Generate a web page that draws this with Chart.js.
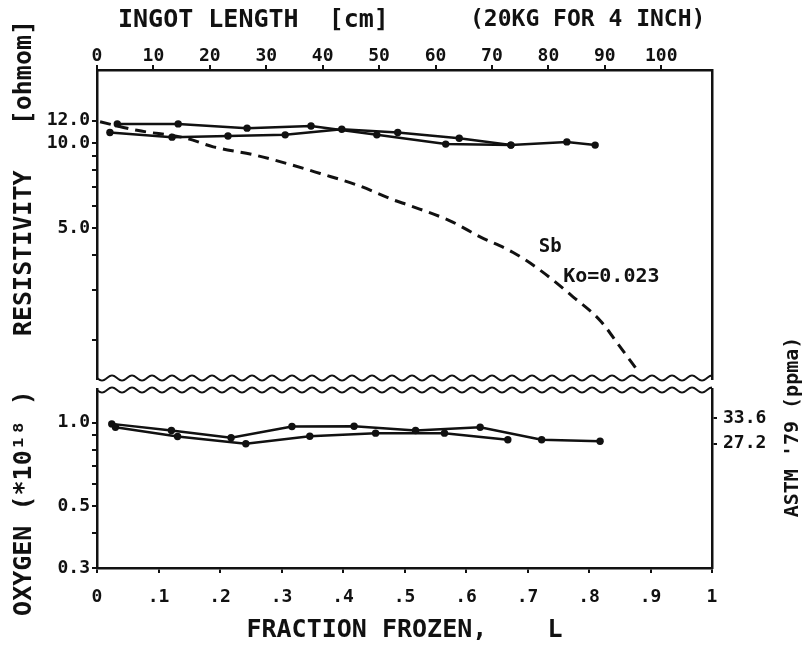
<!DOCTYPE html>
<html>
<head>
<meta charset="utf-8">
<title>Resistivity and oxygen vs fraction frozen</title>
<script src="https://cdn.jsdelivr.net/npm/chart.js@4.4.1/dist/chart.umd.min.js"></script>
<style>
  html, body { margin: 0; padding: 0; background: #fff; }
  #chart { display: block; }
</style>
</head>
<body>
<canvas id="chart" width="809" height="647"></canvas>
<script>
'use strict'

// resistivity [ohm cm] vs fraction frozen, two runs
const resFracA = [0.033, 0.132, 0.244, 0.348, 0.455, 0.567, 0.673]
const resValA = [11.7, 11.7, 11.3, 11.5, 10.7, 9.92, 9.84]
const resFracB = [0.021, 0.122, 0.213, 0.306, 0.398, 0.489, 0.589, 0.673, 0.764, 0.810]
const resValB = [10.9, 10.5, 10.6, 10.7, 11.2, 10.9, 10.4, 9.84, 10.1, 9.84]

// Sb segregation curve (k0 = 0.023), dashed
const sbFrac = [0.005, 0.065, 0.146, 0.189, 0.254, 0.314, 0.363, 0.423, 0.481, 0.509, 0.574, 0.623, 0.676, 0.720, 0.774, 0.818, 0.850, 0.878]
const sbVal = [11.9, 11.1, 10.4, 9.7, 9.1, 8.4, 7.8, 7.1, 6.3, 6.0, 5.3, 4.65, 4.1, 3.55, 2.85, 2.35, 1.9, 1.57]

// oxygen [*10^18] vs fraction frozen
const oxFracA = [0.030, 0.131, 0.242, 0.346, 0.453, 0.565, 0.668]
const oxValA = [0.962, 0.891, 0.839, 0.893, 0.916, 0.916, 0.867]
const oxFracB = [0.024, 0.121, 0.218, 0.317, 0.418, 0.518, 0.623, 0.723, 0.818]
const oxValB = [0.989, 0.936, 0.882, 0.968, 0.970, 0.936, 0.962, 0.867, 0.857]

// axis ticks
const fracTicks = [0, 0.1, 0.2, 0.3, 0.4, 0.5, 0.6, 0.7, 0.8, 0.9, 1]
const fracTickLabels = ['0', '.1', '.2', '.3', '.4', '.5', '.6', '.7', '.8', '.9', '1']
const lenTicks = [0, 10, 20, 30, 40, 50, 60, 70, 80, 90, 100]
const lenTickLabels = ['0', '10', '20', '30', '40', '50', '60', '70', '80', '90', '100']
const resTicks = [12, 10, 9, 8, 7, 6, 5, 4, 3, 2]
const resTickLabels = ['12.0', '10.0', '', '', '', '', '5.0', '', '', '']
const oxTicks = [1.0, 0.9, 0.8, 0.7, 0.6, 0.5, 0.4, 0.3]
const oxTickLabels = ['1.0', '', '', '', '', '0.5', '', '0.3']
const astmTicks = [33.6, 27.2]
const astmTickLabels = ['33.6', '27.2']

const FONT = 'DejaVu Sans Mono'
const INK = '#111'


function pts (xs, ys) {
  return xs.map((x, i) => ({x: x, y: ys[i]}))
}

function lineSet (data, yAxis) {
  return {
    data: data,
    xAxisID: 'x',
    yAxisID: yAxis,
    borderColor: INK,
    backgroundColor: INK,
    borderWidth: 2.5,
    pointRadius: 3.7,
    pointHoverRadius: 3.7,
    pointBorderWidth: 0,
    tension: 0
  }
}

function fixedTicks (values) {
  return function (scale) {
    scale.ticks = values.map(v => ({value: v}))
  }
}

function labelsFrom (labels) {
  return function (value, index) {
    return labels[index]
  }
}

const tickFont = {family: FONT, size: 18, weight: 'bold', lineHeight: 1}
const axisGrid = {display: true, drawOnChartArea: false, drawTicks: true, tickLength: 5, color: INK, lineWidth: 2}
const axisBorder = {display: true, color: INK, width: 2.5}

function sideAxis (position, stack, weight, extra) {
  return Object.assign({
    position: position,
    stack: stack,
    stackWeight: weight,
    grid: {display: false},
    border: axisBorder,
    ticks: {display: false},
    afterFit: scale => { scale.width = 97 }
  }, extra)
}

function gapAxis (position, stack) {
  return {
    position: position,
    stack: stack,
    stackWeight: 10,
    grid: {display: false},
    border: {display: false},
    ticks: {display: false},
    afterFit: scale => { scale.width = 97 }
  }
}

function sideTicks (labels, padding) {
  return {
    display: true,
    autoSkip: false,
    padding: padding,
    color: INK,
    font: tickFont,
    callback: labelsFrom(labels)
  }
}


// wavy break lines between the two panels
const breakMarks = {
  id: 'breakMarks',
  afterDraw (chart) {
    const ctx = chart.ctx
    const left = chart.chartArea.left
    const right = chart.chartArea.right
    const rows = [chart.scales.yRes.bottom - 1, chart.scales.yOx.top + 1]
    ctx.save()
    ctx.strokeStyle = INK
    ctx.lineWidth = 2
    rows.forEach(y0 => {
      ctx.beginPath()
      for (let x = left; x <= right; x++) {
        const y = y0 + 2.5 * Math.sin((x - left) / 20 * 2 * Math.PI)
        if (x === left) ctx.moveTo(x, y)
        else ctx.lineTo(x, y)
      }
      ctx.stroke()
    })
    ctx.restore()
  }
}

function drawText (ctx, text, x, y, size, align, rotate) {
  ctx.save()
  ctx.translate(x, y)
  if (rotate) ctx.rotate(-Math.PI / 2)
  ctx.font = 'bold ' + size + 'px "' + FONT + '"'
  ctx.fillStyle = INK
  ctx.textAlign = align
  ctx.textBaseline = 'middle'
  ctx.fillText(text, 0, 0)
  ctx.restore()
}

// labels that sit outside the axes' own title slots
const plotText = {
  id: 'plotText',
  afterDraw (chart) {
    const ctx = chart.ctx
    const x = chart.scales.x
    const yRes = chart.scales.yRes
    drawText(ctx, 'INGOT LENGTH  [cm]', 118, 20, 25, 'left', false)
    drawText(ctx, '(20KG FOR 4 INCH)', 470, 20, 23, 'left', false)
    drawText(ctx, 'RESISTIVITY   [ohmom]', 24, 178, 25, 'center', true)
    drawText(ctx, 'OXYGEN (*10\u00b9\u2078 )', 24, 503, 25, 'center', true)
    drawText(ctx, "ASTM '79 (ppma)", 793, 427, 20, 'center', true)
    drawText(ctx, 'Sb', x.getPixelForValue(0.737), yRes.getPixelForValue(4.28), 19, 'center', false)
    drawText(ctx, 'Ko=0.023', x.getPixelForValue(0.758), yRes.getPixelForValue(3.35), 20, 'left', false)
  }
}


const sbSet = {
  data: pts(sbFrac, sbVal),
  xAxisID: 'x',
  yAxisID: 'yRes',
  borderColor: INK,
  borderWidth: 3,
  borderDash: [11, 7],
  pointRadius: 0,
  cubicInterpolationMode: 'monotone'
}

new Chart(document.getElementById('chart'), {
  type: 'line',
  data: {
    datasets: [
      sbSet,
      lineSet(pts(resFracA, resValA), 'yRes'),
      lineSet(pts(resFracB, resValB), 'yRes'),
      lineSet(pts(oxFracA, oxValA), 'yOx'),
      lineSet(pts(oxFracB, oxValB), 'yOx')
    ]
  },
  options: {
    responsive: false,
    animation: false,
    events: [],
    layout: {padding: 0},
    plugins: {
      legend: {display: false},
      tooltip: {enabled: false}
    },
    scales: {
      x: {
        type: 'linear',
        position: 'bottom',
        min: 0,
        max: 1,
        grid: axisGrid,
        border: axisBorder,
        afterBuildTicks: fixedTicks(fracTicks),
        ticks: {
          autoSkip: false,
          maxRotation: 0,
          padding: 15,
          color: INK,
          font: tickFont,
          callback: labelsFrom(fracTickLabels)
        },
        title: {
          display: true,
          text: 'FRACTION FROZEN,    L',
          color: INK,
          font: {family: FONT, size: 25, weight: 'bold', lineHeight: 1},
          padding: {top: 0, bottom: 4}
        },
        afterFit: scale => { scale.height = 79 }
      },
      x2: {
        type: 'linear',
        position: 'top',
        min: 0,
        max: 109,
        grid: axisGrid,
        border: axisBorder,
        afterBuildTicks: fixedTicks(lenTicks),
        ticks: {
          autoSkip: false,
          maxRotation: 0,
          padding: 0,
          color: INK,
          font: tickFont,
          callback: labelsFrom(lenTickLabels)
        },
        afterFit: scale => { scale.height = 70 }
      },
      // left stack, listed bottom first
      yOx: sideAxis('left', 'left', 179, {
        type: 'logarithmic',
        min: 0.3,
        max: 1.32,
        grid: axisGrid,
        afterBuildTicks: fixedTicks(oxTicks),
        ticks: sideTicks(oxTickLabels, 2)
      }),
      yGapL: gapAxis('left', 'left'),
      yRes: sideAxis('left', 'left', 309, {
        type: 'logarithmic',
        min: 1.456,
        max: 18.17,
        grid: axisGrid,
        afterBuildTicks: fixedTicks(resTicks),
        ticks: sideTicks(resTickLabels, 2)
      }),
      // right stack, listed top first
      yResR: sideAxis('right', 'right', 309, {type: 'linear', min: 0, max: 1}),
      yGapR: gapAxis('right', 'right'),
      yAstm: sideAxis('right', 'right', 179, {
        type: 'logarithmic',
        min: 9.74,
        max: 42.68,
        grid: axisGrid,
        afterBuildTicks: fixedTicks(astmTicks),
        ticks: sideTicks(astmTickLabels, 6)
      })
    }
  },
  plugins: [breakMarks, plotText]
})
</script>
</body>
</html>
